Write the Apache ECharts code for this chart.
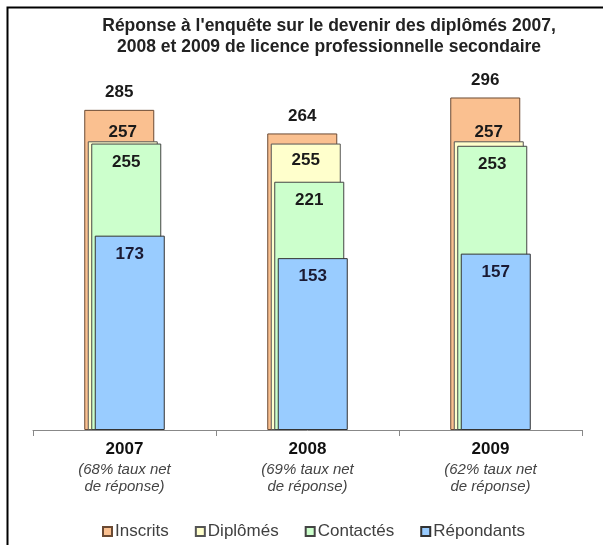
<!DOCTYPE html>
<html>
<head>
<meta charset="utf-8">
<script src="https://cdn.jsdelivr.net/npm/echarts@6/dist/echarts.min.js"></script>
<style>
  html, body { margin: 0; padding: 0; background: #fff; }
  #chart { width: 603px; height: 545px; }
</style>
</head>
<body>
<div id="chart"></div>
<script>
// données
const years = ['2007', '2008', '2009']
const tauxNet = ['68%', '69%', '62%']
const inscrits = [285, 264, 296]
const diplomes = [257, 255, 257]
const contactes = [255, 221, 253]
const repondants = [173, 153, 157]

const font = '"Liberation Sans", Arial, sans-serif'
const labelStyle = {
  show: true,
  fontFamily: font,
  fontSize: 17,
  fontWeight: 'bold',
  color: '#1a1a1a'
}

const chart = echarts.init(document.getElementById('chart'))

// le libellé des diplômés passe au-dessus quand il touche les contactés
const diplomesData = diplomes.map((v, i) => {
  const close = v - contactes[i] < 10
  return {
    value: v,
    label: close
      ? { position: 'top', distance: 0 }
      : { position: 'insideTop', distance: 8 }
  }
})

const option = {
  animation: false,
  title: {
    text: "Réponse à l'enquête sur le devenir des diplômés 2007,\n2008 et 2009 de licence professionnelle secondaire",
    left: 324,
    top: 11,
    textAlign: 'center',
    textStyle: {
      fontFamily: font,
      fontSize: 17.5,
      fontWeight: 'bold',
      color: '#222',
      lineHeight: 21
    }
  },
  legend: {
    bottom: 0,
    left: 97,
    icon: 'rect',
    itemWidth: 9,
    itemHeight: 9,
    itemGap: 26,
    textStyle: { fontFamily: font, fontSize: 17, color: '#404040', padding: [0, 0, 0, -2] },
    data: ['Inscrits', 'Diplômés', 'Contactés', 'Répondants']
  },
  grid: { left: 33, right: 21, top: 93, bottom: 115 },
  xAxis: {
    type: 'category',
    data: years,
    axisLine: { lineStyle: { color: '#888' } },
    axisTick: { show: true, length: 6, lineStyle: { color: '#888' } },
    axisLabel: {
      margin: 7,
      formatter: (v, i) => `{y|${v}}\n{n|(${tauxNet[i]} taux net}\n{n|de réponse)}`,
      rich: {
        y: { fontFamily: font, fontSize: 17, fontWeight: 'bold', color: '#111', lineHeight: 24 },
        n: { fontFamily: font, fontSize: 15, fontStyle: 'italic', color: '#444', lineHeight: 17 }
      }
    }
  },
  yAxis: {
    type: 'value',
    min: 0,
    max: 300,
    show: false,
    splitLine: { show: false }
  },
  series: [
    {
      name: 'Inscrits',
      type: 'bar',
      barWidth: 70,
      barGap: '-95%',
      itemStyle: { color: '#fac090', borderColor: '#6b4a33', borderWidth: 1 },
      label: Object.assign({}, labelStyle, { position: 'top', distance: 9 }),
      data: inscrits
    },
    {
      name: 'Diplômés',
      type: 'bar',
      barWidth: 70,
      barGap: '-95%',
      itemStyle: { color: '#ffffcc', borderColor: '#555', borderWidth: 1 },
      label: labelStyle,
      data: diplomesData
    },
    {
      name: 'Contactés',
      type: 'bar',
      barWidth: 70,
      barGap: '-95%',
      itemStyle: { color: '#ccffcc', borderColor: '#444', borderWidth: 1 },
      label: Object.assign({}, labelStyle, { position: 'insideTop', distance: 10 }),
      data: contactes
    },
    {
      name: 'Répondants',
      type: 'bar',
      barWidth: 70,
      barGap: '-95%',
      itemStyle: { color: '#99ccff', borderColor: '#333', borderWidth: 1 },
      label: Object.assign({}, labelStyle, { position: 'insideTop', distance: 10, color: '#1a1a33' }),
      data: repondants
    }
  ],
  graphic: [
    {
      type: 'polyline',
      silent: true,
      shape: { points: [[7.5, 545], [7.5, 7.5], [603, 7.5]] },
      style: { stroke: '#000', lineWidth: 2, fill: null }
    }
  ]
}

chart.setOption(option)
</script>
</body>
</html>
